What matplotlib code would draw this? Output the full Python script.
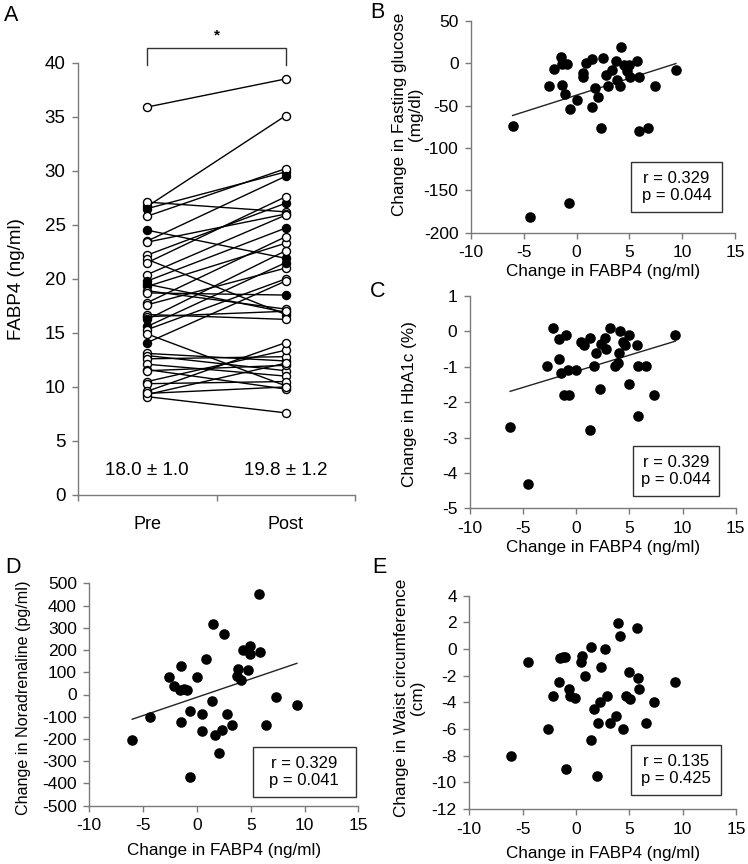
import numpy as np
import matplotlib
matplotlib.use("Agg")
import matplotlib.pyplot as plt
from matplotlib.patches import Rectangle

plt.rcParams['font.family'] = ['Liberation Sans', 'DejaVu Sans']
plt.rcParams['axes.unicode_minus'] = False

# ---------------- Data ----------------
# Panel A: paired FABP4 values (ng/ml); filled marker flags
pre_vals = [35.9, 26.7, 27.1, 26.5, 25.8, 24.5, 23.5, 23.4, 22.2, 21.8, 21.5, 20.4,
            19.8, 19.5, 19.3, 18.9, 18.7, 17.8, 17.6, 16.7, 16.5, 16.25, 15.6, 15.3,
            14.9, 14.1, 13.1, 12.9, 12.6, 12.1, 11.6, 11.5, 10.5, 10.3, 9.6, 9.3, 9.1, 9.4]
post_vals = [38.5, 35.1, 26.2, 29.9, 30.2, 21.9, 29.5, 26.0, 27.0, 16.7, 27.6, 25.9,
             24.7, 16.9, 23.3, 17.2, 18.5, 23.9, 21.0, 16.25, 17.0, 22.6, 21.5, 20.0,
             10.1, 19.8, 12.4, 11.5, 12.8, 11.0, 9.8, 12.0, 13.4, 10.5, 14.1, 12.2, 7.6, 10.0]
pre_filled = [0, 0, 0, 1, 0, 1, 0, 0, 0, 0, 0, 0,
              1, 1, 1, 0, 0, 0, 0, 0, 0, 1, 1, 0,
              0, 1, 0, 0, 0, 0, 0, 0, 0, 0, 0, 0, 0, 0]
post_filled = [0, 0, 0, 1, 0, 1, 1, 0, 1, 1, 0, 0,
               1, 1, 0, 0, 1, 0, 0, 0, 0, 0, 1, 0,
               0, 0, 0, 0, 0, 0, 0, 0, 0, 0, 0, 0, 0, 0]
group_labels = ["Pre", "Post"]
group_summary = ["18.0 \u00b1 1.0", "19.8 \u00b1 1.2"]

# Panel B: change in FABP4 vs change in fasting glucose
b_x = [-6.06, -4.42, -0.73, -2.59, -2.15, -1.51, -1.42, -0.95, -1.39, -1.07, -0.63, 0.0,
       0.57, 0.57, 0.85, 1.42, 1.45, 1.77, 2.05, 2.30, 2.46, 2.74, 3.00, 3.31, 3.72,
       3.85, 4.10, 4.20, 4.48, 4.73, 4.98, 5.05, 5.74, 5.93, 5.93, 6.72, 7.45, 9.40]
b_y = [-73.6, -181, -164.7, -27.1, -7.0, 7.0, -0.8, -1.6, -25.6, -36.4, -53.9, -43.4,
       -11.6, -16.3, 0.0, 5.0, -51.2, -29.5, -40.3, -76.7, 6.6, -14.0, -27.1, -8.5, 2.3,
       -20.2, -27.1, 18.6, -2.7, -9.3, -2.7, -16.3, 2.3, -16.3, -79.8, -76.7, -27.1, -8.5]

# Panel C: change in FABP4 vs change in HbA1c
c_x = [-6.22, -4.54, -2.74, -2.15, -1.64, -1.58, -1.42, -1.01, -1.20, -0.73, -0.76, -0.06,
       0.44, 0.76, 1.33, 1.33, 1.64, 1.83, 2.21, 2.30, 2.74, 2.84, 3.19, 3.63, 3.88, 3.98,
       4.10, 4.35, 4.61, 4.92, 4.92, 5.68, 5.81, 5.84, 6.56, 7.35, 9.31]
c_y = [-2.70, -4.30, -0.99, 0.10, -0.21, -0.79, -1.19, -0.09, -1.81, -1.81, -1.10, -1.10,
       -0.29, -0.38, -0.19, -2.79, -0.98, -0.60, -1.62, -0.36, -0.19, -0.50, 0.10, -0.98,
       -0.89, -0.60, 0.00, -0.29, -0.38, -0.10, -1.50, -0.38, -0.98, -2.40, -0.98, -1.81, -0.10]

# Panel D: change in FABP4 vs change in noradrenaline
d_x = [-6.01, -4.40, -2.60, -2.17, -1.46, -1.61, -1.24, -0.93, -1.52, -0.68, -0.68, 0.0,
       0.50, 0.50, 0.80, 1.36, 1.49, 1.64, 2.01, 2.35, 2.48, 2.82, 3.28, 3.75, 3.81, 4.06,
       4.33, 4.74, 4.95, 4.95, 5.76, 5.82, 6.44, 7.31, 9.29]
d_y = [-204, -102, 78, 40, 126, 22, 25, 18, -124, -72, -372, 78,
       -87, -165, 160, -30, 318, -184, -262, -159, 273, -87, -139, 81, 115, 66,
       201, 108, 216, 183, 450, 190, -139, -9, -45]

# Panel E: change in FABP4 vs change in waist circumference
e_x = [-6.13, -4.47, -2.59, -2.19, -1.59, -1.50, -1.25, -1.00, -0.94, -0.69, -0.56, -0.06,
       0.44, 0.56, 0.88, 1.38, 1.38, 1.72, 1.97, 2.06, 2.25, 2.34, 2.69, 2.94, 3.19, 3.75,
       3.97, 4.13, 4.44, 4.69, 4.97, 5.03, 5.69, 5.84, 5.88, 6.56, 7.31, 9.28]
e_y = [-8.03, -0.95, -6.03, -3.53, -2.5, -0.7, -0.58, -0.58, -9.0, -3.0, -3.53, -3.7,
       -0.95, -0.53, -2.0, 0.18, -6.83, -4.5, -9.5, -5.53, -3.95, -1.33, 0.0, -3.53, -5.53,
       -5.0, 1.98, 1.0, -6.0, -3.53, -1.7, -3.78, 1.55, -2.15, -3.03, -5.53, -4.0, -2.5]

stats_B = "r = 0.329\np = 0.044"
stats_C = "r = 0.329\np = 0.044"
stats_D = "r = 0.329\np = 0.041"
stats_E = "r = 0.135\np = 0.425"

# ---------------- Figure ----------------
W, H = 748, 864
fig = plt.figure(figsize=(W / 100, H / 100), dpi=100)
SPINE = '#7a7a7a'
TICKFS = 12.5
LABFS = 12.3


def add_ax(left, top, right, bottom):
    return fig.add_axes([left / W, 1 - bottom / H, (right - left) / W, (bottom - top) / H])


def style(ax):
    for s in ['top', 'right']:
        ax.spines[s].set_visible(False)
    for s in ['left', 'bottom']:
        ax.spines[s].set_color(SPINE)
        ax.spines[s].set_linewidth(1.0)
    ax.tick_params(direction='out', length=4, width=1.0, color=SPINE,
                   labelsize=TICKFS, pad=5)


# ---- Panel A ----
axA = add_ax(78, 62.7, 355, 495)
style(axA)
axA.set_xlim(0, 2)
axA.set_ylim(0, 40)
axA.set_yticks(np.arange(0, 41, 5))
axA.set_xticks([0, 1, 2])
axA.set_xticklabels([])
axA.set_xticks([0.5, 1.5], minor=True)
axA.set_xticklabels(group_labels, minor=True, fontsize=13)
axA.tick_params(axis='x', which='minor', length=0, pad=15)
axA.tick_params(axis='y', labelsize=13.5)
xpos = [0.5, 1.5]
for a, b in zip(pre_vals, post_vals):
    axA.plot(xpos, [a, b], color='black', lw=1.0, zorder=2)
for vals, fills, xp in [(pre_vals, pre_filled, 0.5), (post_vals, post_filled, 1.5)]:
    for v, f in zip(vals, fills):
        axA.plot([xp], [v], marker='o', markersize=5.8,
                 markerfacecolor='black' if f else 'white',
                 markeredgecolor='black', markeredgewidth=1.0, zorder=3, clip_on=False)
for xp, t in zip(xpos, group_summary):
    axA.text(xp, 2.3, t, ha='center', va='center', fontsize=13.5)
axA.plot([0.5, 0.5, 1.5, 1.5], [39.8, 41.4, 41.4, 39.8], color='#333333', lw=1.0,
         clip_on=False)
axA.text(1.0, 42.5, '*', ha='center', va='center', fontsize=11, fontweight='bold')
axA.set_ylabel('FABP4 (ng/ml)', fontsize=13.5)
axA.yaxis.set_label_coords(-0.19, 0.5)


def scatter_panel(ax, x, y, ylim, yticks, ylabel, stats, box, fit, ylab_xy, xlabelpad,
                  ylabfs=LABFS):
    style(ax)
    ax.set_xlim(-10, 15)
    ax.set_ylim(*ylim)
    ax.set_xticks([-10, -5, 0, 5, 10, 15])
    ax.set_yticks(yticks)
    ax.scatter(x, y, s=58, color='black', zorder=3, clip_on=False, linewidths=0)
    if fit:
        k, c = np.polyfit(x, y, 1)
        xs = np.array([min(x), max(x)])
        ax.plot(xs, k * xs + c, color='#222222', lw=1.0, zorder=2)
    ax.set_xlabel('Change in FABP4 (ng/ml)', fontsize=LABFS, labelpad=xlabelpad)
    ax.set_ylabel(ylabel, fontsize=ylabfs, linespacing=1.1)
    ax.yaxis.set_label_coords(*ylab_xy)
    l, b, r, t = box
    ax.add_patch(Rectangle((l, b), r - l, t - b, transform=ax.transAxes,
                           facecolor='white', edgecolor='#333333', lw=1.0, zorder=4))
    ax.text((l + r) / 2, (b + t) / 2, stats, transform=ax.transAxes, ha='center',
            va='center', fontsize=12, linespacing=1.15, zorder=5)


axB = add_ax(471, 20.7, 735, 232.7)
scatter_panel(axB, b_x, b_y, (-200, 50), np.arange(-200, 51, 50),
              'Change in Fasting glucose\n(mg/dl)', stats_B,
              (0.606, 0.098, 0.951, 0.333), True, (-0.18, 0.56), 3)

axC = add_ax(470, 296, 735.7, 508.3)
scatter_panel(axC, c_x, c_y, (-5, 1), np.arange(-5, 2, 1),
              'Change in HbA1c (%)', stats_C,
              (0.615, 0.058, 0.936, 0.295), True, (-0.2, 0.49), 3)

axD = add_ax(89.3, 583.3, 358.3, 805.7)
scatter_panel(axD, d_x, d_y, (-500, 500), np.arange(-500, 501, 100),
              'Change in Noradrenaline (pg/ml)', stats_D,
              (0.608, 0.04, 0.991, 0.265), True, (-0.217, 0.485), 7, ylabfs=11.6)

axE = add_ax(469.3, 595.7, 736, 809)
scatter_panel(axE, e_x, e_y, (-12, 4), np.arange(-12, 5, 2),
              'Change in Waist circumference\n(cm)', stats_E,
              (0.606, 0.066, 0.942, 0.30), False, (-0.166, 0.52), 7)

# Panel letters
for lab, px, py in [('A', 4, 21), ('B', 370, 18), ('C', 370, 297), ('D', 5, 573), ('E', 372, 573)]:
    fig.text(px / W, 1 - py / H, lab, fontsize=15.5, ha='left', va='baseline')

fig.savefig('out.png', dpi=100)
